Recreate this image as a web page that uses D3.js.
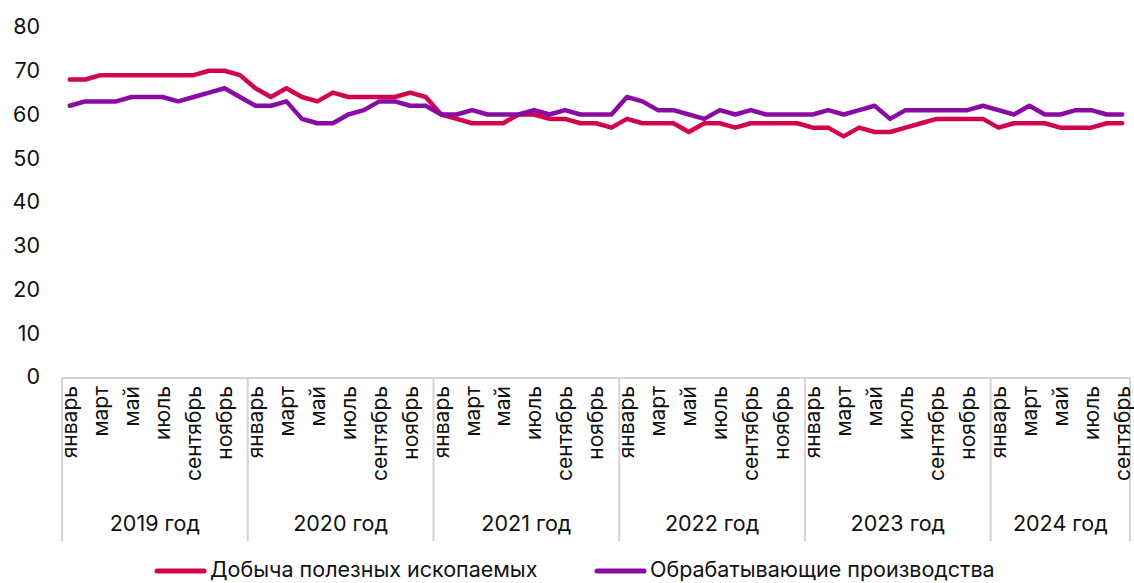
<!DOCTYPE html>
<html>
<head>
<meta charset="utf-8">
<script src="https://cdn.jsdelivr.net/npm/d3@7"></script>
<style>
    body { margin: 0; background: #fff; }
    svg { display: block; font-family: Inter, "Noto Sans", sans-serif; }
</style>
</head>
<body>
<svg id="chart" width="1134" height="583"></svg>
<script>
/*global d3 */

var years = ["2019 год", "2020 год", "2021 год", "2022 год", "2023 год", "2024 год"];
var monthNames = ["январь", "февраль", "март", "апрель", "май", "июнь",
                  "июль", "август", "сентябрь", "октябрь", "ноябрь", "декабрь"];
var monthsInYear = [12, 12, 12, 12, 12, 9];
var yTicks = [0, 10, 20, 30, 40, 50, 60, 70, 80];

var mining = [68, 68, 69, 69, 69, 69, 69, 69, 69, 70, 70, 69,
              66, 64, 66, 64, 63, 65, 64, 64, 64, 64, 65, 64,
              60, 59, 58, 58, 58, 60, 60, 59, 59, 58, 58, 57,
              59, 58, 58, 58, 56, 58, 58, 57, 58, 58, 58, 58,
              57, 57, 55, 57, 56, 56, 57, 58, 59, 59, 59, 59,
              57, 58, 58, 58, 57, 57, 57, 58, 58];
var manufacturing = [62, 63, 63, 63, 64, 64, 64, 63, 64, 65, 66, 64,
                     62, 62, 63, 59, 58, 58, 60, 61, 63, 63, 62, 62,
                     60, 60, 61, 60, 60, 60, 61, 60, 61, 60, 60, 60,
                     64, 63, 61, 61, 60, 59, 61, 60, 61, 60, 60, 60,
                     60, 61, 60, 61, 62, 59, 61, 61, 61, 61, 61, 62,
                     61, 60, 62, 60, 60, 61, 61, 60, 60];

var seriesNames = ["Добыча полезных ископаемых", "Обрабатывающие производства"];
var seriesColors = ["#d2044f", "#8a0ba3"];

(function () {
    "use strict";

    var svg = d3.select("#chart"),
        m = {top: 27, right: 4, bottom: 205, left: 62},
        width = 1134 - m.left - m.right,
        axisY = 378,
        months = [],
        yearStarts = [],
        x, y, line, g, xg;

    monthsInYear.forEach(function (n, yi) {
        var k;
        yearStarts.push(months.length);
        for(k = 0; k < n; k += 1) {
            months.push({idx: months.length, year: yi, m: k}); }
    });
    yearStarts.push(months.length);

    x = d3.scaleBand().domain(months.map(function (d) { return d.idx; }))
        .range([m.left, m.left + width]).padding(0);
    y = d3.scaleLinear().domain([0, 80]).range([axisY - 1, m.top]);

    //y axis labels only, no line
    g = svg.append("g").attr("class", "axis--y")
        .attr("transform", "translate(40,0)")
        .call(d3.axisLeft(y).tickValues(yTicks).tickSize(0).tickPadding(0));
    g.select(".domain").remove();
    g.selectAll("text").attr("font-size", 21.5).attr("fill", "#111")
        .attr("font-family", "Inter, sans-serif");

    //category frame
    xg = svg.append("g").attr("class", "axis--x");
    xg.append("line")
        .attr("x1", m.left).attr("x2", m.left + width)
        .attr("y1", axisY).attr("y2", axisY)
        .attr("stroke", "#d4d4d4").attr("stroke-width", 2);
    xg.selectAll("line.sep").data(yearStarts).enter().append("line")
        .attr("class", "sep")
        .attr("x1", function (d) { return d < months.length ? x(d) : m.left + width; })
        .attr("x2", function (d) { return d < months.length ? x(d) : m.left + width; })
        .attr("y1", axisY).attr("y2", 541)
        .attr("stroke", "#d4d4d4").attr("stroke-width", 2);

    //month labels, every second month
    xg.selectAll("text.month")
        .data(months.filter(function (d) { return d.m % 2 === 0; }))
        .enter().append("text")
        .attr("class", "month")
        .attr("transform", function (d) {
            return "translate(" + (x(d.idx) + x.bandwidth() / 2) + "," + 386 + ") rotate(-90)"; })
        .attr("dy", "0.35em")
        .attr("text-anchor", "end")
        .attr("font-size", 21)
        .attr("fill", "#111")
        .text(function (d) { return monthNames[d.m]; });

    //year labels
    xg.selectAll("text.year").data(years).enter().append("text")
        .attr("class", "year")
        .attr("x", function (d, i) {
            var a = x(yearStarts[i]),
                b = yearStarts[i + 1] < months.length ? x(yearStarts[i + 1]) : m.left + width;
            return (a + b) / 2; })
        .attr("y", 523)
        .attr("dy", "0.35em")
        .attr("text-anchor", "middle")
        .attr("font-size", 21.5)
        .attr("fill", "#111")
        .text(function (d) { return d; });

    line = d3.line()
        .x(function (d, i) { return x(i) + x.bandwidth() / 2; })
        .y(function (d) { return y(d); });

    svg.selectAll("path.series").data([mining, manufacturing]).enter()
        .append("path")
        .attr("class", "series")
        .attr("fill", "none")
        .attr("stroke", function (d, i) { return seriesColors[i]; })
        .attr("stroke-width", 4.5)
        .attr("stroke-linejoin", "round")
        .attr("stroke-linecap", "round")
        .attr("d", line);

    //legend
    var leg = svg.append("g").attr("class", "legend"),
        legX = [157, 597];
    seriesNames.forEach(function (name, i) {
        leg.append("line")
            .attr("x1", legX[i]).attr("x2", legX[i] + 47)
            .attr("y1", 571).attr("y2", 571)
            .attr("stroke", seriesColors[i]).attr("stroke-width", 5)
            .attr("stroke-linecap", "round");
        leg.append("text")
            .attr("x", legX[i] + 53).attr("y", 569)
            .attr("dy", "0.35em")
            .attr("font-size", 21.5)
            .attr("fill", "#111")
            .text(name);
    });
}());
</script>
</body>
</html>
